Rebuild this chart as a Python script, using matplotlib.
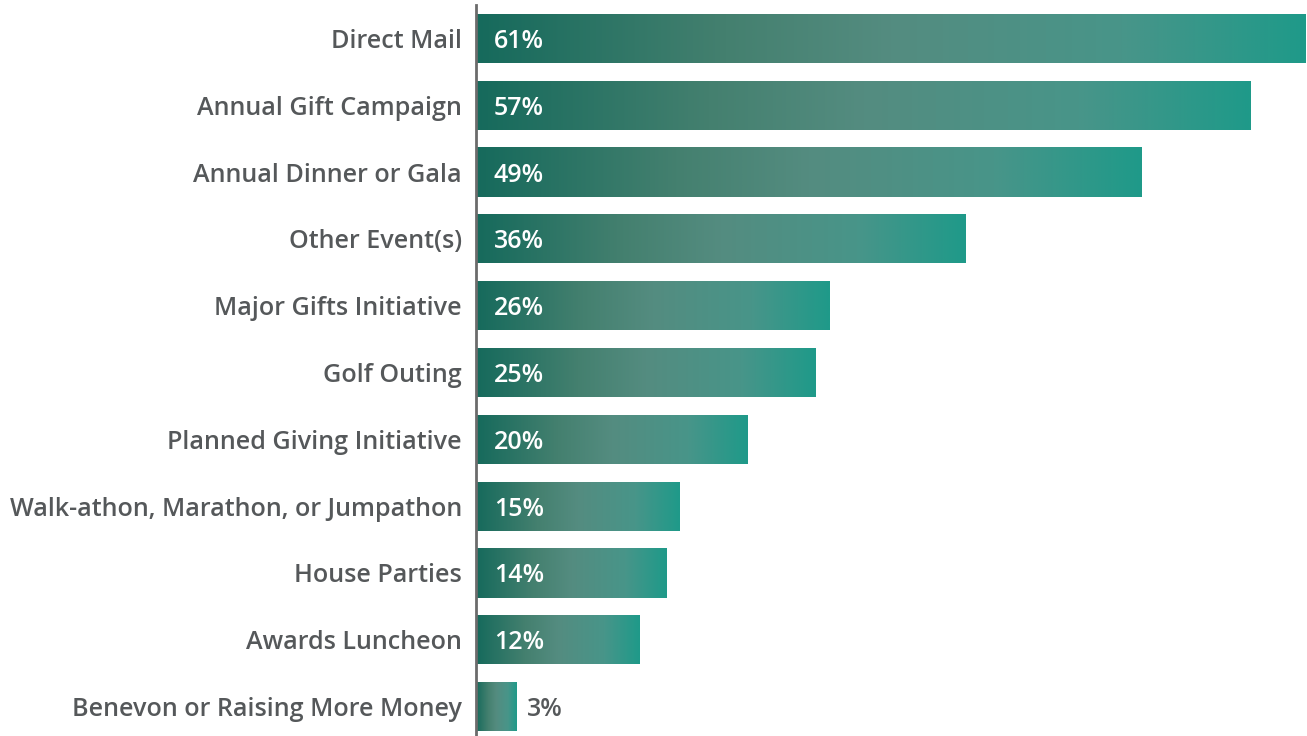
import matplotlib
matplotlib.use("Agg")
import matplotlib.pyplot as plt
import numpy as np
from matplotlib.colors import LinearSegmentedColormap

categories = [
    "Direct Mail",
    "Annual Gift Campaign",
    "Annual Dinner or Gala",
    "Other Event(s)",
    "Major Gifts Initiative",
    "Golf Outing",
    "Planned Giving Initiative",
    "Walk-athon, Marathon, or Jumpathon",
    "House Parties",
    "Awards Luncheon",
    "Benevon or Raising More Money",
]
values = [61, 57, 49, 36, 26, 25, 20, 15, 14, 12, 3]
value_labels = [f"{v}%" for v in values]

W, H, DPI = 1307, 736, 100
fig = plt.figure(figsize=(W / DPI, H / DPI), dpi=DPI)
left_px, right_px, top_px, bottom_px = 476, 1306, 5, 740
ax = fig.add_axes([left_px / W, 1 - bottom_px / H,
                   (right_px - left_px) / W, (bottom_px - top_px) / H])

text_gray = "#55585a"
font = "Open Sans"
weight = "semibold"
fs_cat = 18.05
fs_val = 18.0

grad = LinearSegmentedColormap.from_list(
    "teal", [(0.0, "#166a5c"), (0.3, "#44806f"), (0.5, "#548c80"),
             (0.78, "#489589"), (1.0, "#1f9a89")])
gradient = np.linspace(0, 1, 512).reshape(1, -1)

bar_h = 0.735
bars = ax.barh(range(len(values)), values, height=bar_h, color="none", edgecolor="none")
for bar in bars:
    x0, y0 = bar.get_x(), bar.get_y()
    w, h = bar.get_width(), bar.get_height()
    im = ax.imshow(gradient, cmap=grad, aspect="auto",
                   extent=[x0, x0 + w, y0 + h, y0], interpolation="bilinear", zorder=2)
    im.set_clip_path(bar)

for i, (v, lab) in enumerate(zip(values, value_labels)):
    inside = v >= 10
    ax.text(1.3 if inside else v + 0.75, i, lab,
            color="white" if inside else text_gray, fontsize=fs_val, family=font,
            fontweight=weight, va="center_baseline", ha="left", zorder=3)

ax.set_xlim(0, 61.07)
ax.set_ylim(len(values) - 0.5, -0.5)
ax.set_yticks(range(len(categories)))
ax.set_yticklabels(categories, fontsize=fs_cat, family=font, fontweight=weight, color=text_gray)
for t in ax.get_yticklabels():
    t.set_verticalalignment("center_baseline")
ax.tick_params(axis="y", length=0, pad=10)
ax.set_xticks([])
for s in ["top", "right", "bottom"]:
    ax.spines[s].set_visible(False)
ax.spines["left"].set_color("#6b6b6b")
ax.spines["left"].set_linewidth(2)
ax.spines["left"].set_zorder(4)

fig.savefig("out.png", dpi=DPI)
